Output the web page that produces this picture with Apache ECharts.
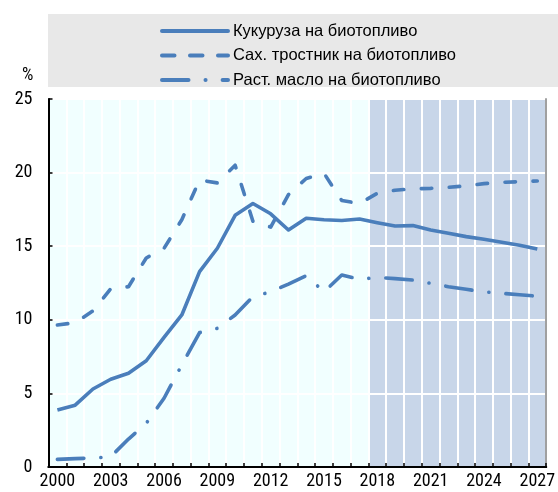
<!DOCTYPE html>
<html>
<head>
<meta charset="utf-8">
<script src="https://cdn.jsdelivr.net/npm/echarts@6/dist/echarts.min.js"></script>
<style>
html,body{margin:0;padding:0;background:#fff;}
#chart{width:558px;height:492px;}
</style>
</head>
<body>
<div id="chart"></div>
<script>
const categories = ['2000','2001','2002','2003','2004','2005','2006','2007','2008','2009','2010','2011','2012','2013','2014','2015','2016','2017','2018','2019','2020','2021','2022','2023','2024','2025','2026','2027'];
const projectionYears = ['2018','2019','2020','2021','2022','2023','2024','2025','2026','2027'];
const yTicks = [0, 5, 10, 15, 20, 25];

const seriesNames = ['Кукуруза на биотопливо', 'Сах. тростник на биотопливо', 'Раст. масло на биотопливо'];
const maize = [3.87, 4.2, 5.3, 5.96, 6.37, 7.22, 8.8, 10.33, 13.27, 14.86, 17.1, 17.9, 17.2, 16.1, 16.9, 16.8, 16.75, 16.85, 16.6, 16.37, 16.4, 16.1, 15.88, 15.65, 15.47, 15.27, 15.06, 14.81];
const sugarcane = [9.65, 9.8, 10.6, 12.1, 12.25, 14.2, 14.86, 16.8, 19.5, 19.3, 20.5, 16.7, 16.3, 18.5, 19.6, 19.95, 18.1, 17.9, 18.6, 18.8, 18.9, 18.93, 19.0, 19.1, 19.25, 19.34, 19.38, 19.43];
const vegoil = [0.52, 0.57, 0.6, 0.7, 1.9, 2.97, 4.67, 6.93, 9.13, 9.42, 10.33, 11.57, 11.9, 12.43, 13.0, 11.9, 13.04, 12.75, 12.88, 12.8, 12.7, 12.48, 12.25, 12.07, 11.9, 11.8, 11.7, 11.6];

const AXFONT = "'Roboto Condensed', 'Liberation Sans', Arial, sans-serif";
const LGFONT = "'Liberation Sans', Arial, sans-serif";
const LINE = '#4A7EBB';
const yMin = yTicks[0], yMax = yTicks[yTicks.length - 1], yStep = yTicks[1] - yTicks[0];

const chart = echarts.init(document.getElementById('chart'), null, {renderer: 'canvas'});
chart.setOption({
  animation: false,
  textStyle: {fontFamily: AXFONT},
  graphic: [
    {type: 'rect', left: 48, top: 14, shape: {width: 510, height: 73}, style: {fill: '#E8E8E8'}, z: -10, silent: true},
    {type: 'text', left: 22, top: 66, style: {text: '%', font: '18px ' + AXFONT, fill: '#000'}}
  ],
  legend: {
    orient: 'vertical', left: 155, top: 17.5,
    itemWidth: 66, itemHeight: 16, itemGap: 7.5,
    textStyle: {fontSize: 16.5, color: '#000', fontFamily: LGFONT},
    itemStyle: {opacity: 0},
    lineStyle: {width: 4, cap: 'round'},
    data: [
      {name: seriesNames[0], lineStyle: {width: 4, cap: 'round'}},
      {name: seriesNames[1], lineStyle: {width: 4, type: [12.5, 15.5], cap: 'round'}},
      {name: seriesNames[2], lineStyle: {width: 4, type: [26.5, 17, 0.1, 17], cap: 'round'}}
    ]
  },
  grid: {left: 48.5, right: 8, top: 99, bottom: 25, containLabel: false},
  xAxis: [{
    type: 'category', data: categories, boundaryGap: true,
    axisLine: {lineStyle: {color: '#000', width: 2}},
    axisTick: {show: true, inside: true, length: 4, interval: 0, lineStyle: {color: '#000', width: 1.5}},
    axisLabel: {interval: 2, fontSize: 18, color: '#000', margin: 5, fontFamily: AXFONT},
    splitLine: {show: true, interval: 0, lineStyle: {color: '#fff', width: 2}}
  }, {
    type: 'category', data: categories, position: 'top',
    axisLine: {lineStyle: {color: '#000', width: 2}},
    axisTick: {show: false}, axisLabel: {show: false}, splitLine: {show: false}
  }],
  yAxis: [{
    type: 'value', min: yMin, max: yMax, interval: yStep,
    axisLine: {show: true, lineStyle: {color: '#000', width: 2}},
    axisTick: {show: true, inside: true, length: 4, lineStyle: {color: '#000', width: 1.5}},
    axisLabel: {fontSize: 18, color: '#000', margin: 16, fontFamily: AXFONT},
    splitLine: {show: true, lineStyle: {color: '#fff', width: 2}}
  }, {
    type: 'value', min: yMin, max: yMax, interval: yStep, position: 'right',
    axisLine: {show: true, lineStyle: {color: '#A0A0A0', width: 2}},
    axisTick: {show: false}, axisLabel: {show: false}, splitLine: {show: false}
  }],
  series: [
    {
      type: 'bar', name: 'bg', silent: true, z: -1, barCategoryGap: '0%', barWidth: '100%',
      legendHoverLink: false,
      data: categories.map(c => ({value: yMax, itemStyle: {color: projectionYears.includes(c) ? '#C8D6E9' : '#F1FFFF'}}))
    },
    {
      type: 'line', name: seriesNames[0], data: maize, symbol: 'none',
      lineStyle: {color: LINE, width: 3.6, join: 'round'}, itemStyle: {color: LINE}, z: 3
    },
    {
      type: 'line', name: seriesNames[1], data: sugarcane, symbol: 'none',
      lineStyle: {color: LINE, width: 3.6, type: [10.5, 17.5], cap: 'round', join: 'round'}, itemStyle: {color: LINE}, z: 3
    },
    {
      type: 'line', name: seriesNames[2], data: vegoil, symbol: 'none',
      lineStyle: {color: LINE, width: 3.6, type: [26.5, 17, 0.1, 17], cap: 'round', join: 'round'}, itemStyle: {color: LINE}, z: 3
    }
  ]
});
</script>
</body>
</html>
